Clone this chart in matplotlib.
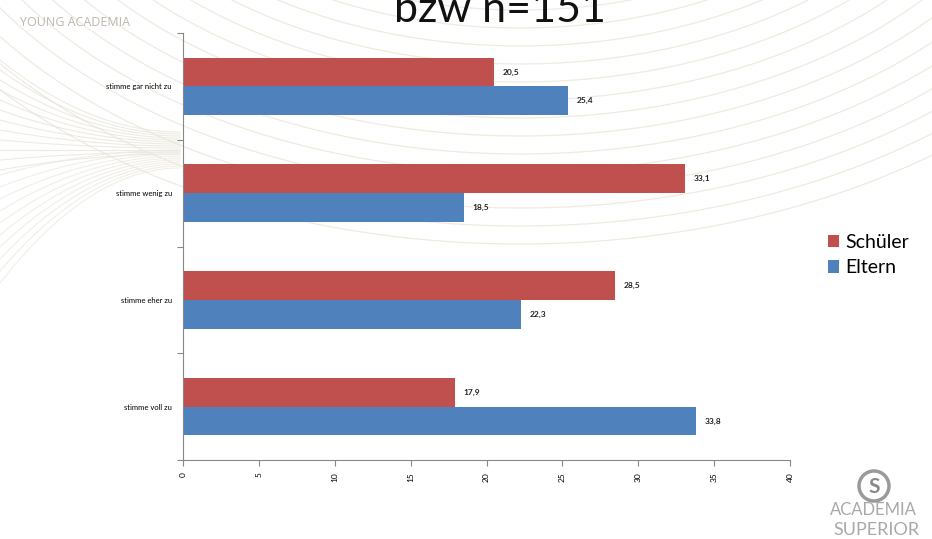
import numpy as np
import matplotlib
matplotlib.use('Agg')
from matplotlib import pyplot as plt


# Survey answers (top to bottom) and percentages per group
categories = ['stimme gar nicht zu', 'stimme wenig zu', 'stimme eher zu', 'stimme voll zu']
schueler = [20.5, 33.1, 28.5, 17.9]
eltern = [25.4, 18.5, 22.3, 33.8]
x_ticks = [0, 5, 10, 15, 20, 25, 30, 35, 40]

red = '#C0504D'
blue = '#4F81BD'

plt.rcParams['font.family'] = ['Lato', 'DejaVu Sans']

fig = plt.figure(figsize=(9.32, 5.39), dpi=100)
fig.patch.set_facecolor('white')

# Faint swoosh lines of the slide template
bg = fig.add_axes([0, 0, 1, 1], zorder=0)
bg.set_xlim(0, 932)
bg.set_ylim(539, 0)
bg.axis('off')
for i in range(14):
    r = 260 + i * 14
    cx, cy = 520, -250 + i * 4
    ang = np.linspace(np.pi * 0.05, np.pi * 0.95, 200)
    bg.plot(cx + r * 1.55 * np.cos(ang), cy + r * np.sin(ang),
            color='#ebe6d8', lw=0.9, alpha=0.8)
t = np.linspace(0, 1, 100)
for i in range(12):
    y0 = 60 + i * 10
    y1 = 132 + i * 2.0
    ys = y0 + (y1 - y0) * (1 - (1 - t) ** 2)
    bg.plot(t * 180, ys, color='#e6e2d6', lw=0.8, alpha=0.7)
for i in range(10):
    y0 = 175 + i * 12
    y1 = 150 + i * 2.0
    ys = y0 + (y1 - y0) * (1 - (1 - t) ** 2)
    bg.plot(t * 180, ys, color='#ece8de', lw=0.8, alpha=0.7)
bg.text(20, 22, 'YOUNG ACADEMIA', fontsize=9, color='#bdb8ad', va='center',
        family=['Open Sans', 'DejaVu Sans'])
bg.text(873, 510, 'ACADEMIA', fontsize=12, color='#a9a9a9', ha='center', va='center')
bg.text(876, 530, 'SUPERIOR', fontsize=13, color='#a9a9a9', ha='center', va='center')
bg.add_patch(plt.Circle((874, 486), 15, fill=False, ec='#9a9a9a', lw=2.5))
bg.text(874, 487, 'S', fontsize=15, color='#8a8a8a', ha='center', va='center',
        fontweight='bold')

# Title (top part falls outside the page)
fig.text(500 / 932, 1 - 22 / 539, 'bzw n=151', fontsize=31, ha='center',
         va='baseline', color='#111111')

ax = fig.add_axes([183 / 932, 1 - 460 / 539, 607 / 932, 427 / 539], zorder=1)
ax.patch.set_alpha(0)

y = np.arange(len(categories))
h = 0.27
ax.barh(y - h / 2, schueler, height=h, color=red, label='Schüler')
ax.barh(y + h / 2, eltern, height=h, color=blue, label='Eltern')

for yi, v in zip(y, schueler):
    ax.text(v + 0.55, yi - h / 2, f'{v:.1f}'.replace('.', ','), fontsize=6,
            fontweight='bold', va='center', color='#222222')
for yi, v in zip(y, eltern):
    ax.text(v + 0.55, yi + h / 2, f'{v:.1f}'.replace('.', ','), fontsize=6,
            fontweight='bold', va='center', color='#222222')

ax.set_xlim(0, 40)
ax.set_ylim(3.5, -0.5)
ax.set_xticks(x_ticks)
ax.set_xticklabels([str(v) for v in x_ticks], fontsize=6, rotation=90)

# Category names sit between the boundary tick marks
ax.set_yticks(np.arange(-0.5, 4, 1))
ax.set_yticklabels([])
ax.set_yticks(y, minor=True)
ax.set_yticklabels(categories, minor=True, fontsize=5.5)
ax.tick_params(axis='y', which='minor', length=0, pad=8)
ax.tick_params(axis='y', which='major', length=4, color='#888888')
ax.tick_params(axis='x', length=4, color='#888888', pad=5)

for side in ['top', 'right']:
    ax.spines[side].set_visible(False)
for side in ['left', 'bottom']:
    ax.spines[side].set_color('#888888')

ax.legend(loc='center left', bbox_to_anchor=(810 / 932, 1 - 255 / 539),
          bbox_transform=fig.transFigure, frameon=False, fontsize=14,
          handlelength=0.6, handleheight=0.6, handletextpad=0.3,
          labelspacing=0.45)

plt.savefig('out.png', dpi=100)
